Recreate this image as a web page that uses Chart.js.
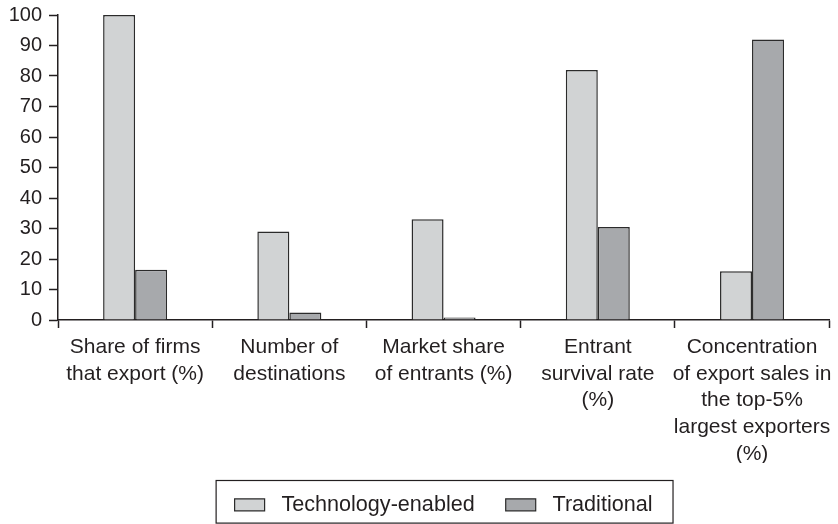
<!DOCTYPE html>
<html>
<head>
<meta charset="utf-8">
<script src="https://cdn.jsdelivr.net/npm/chart.js@4/dist/chart.umd.min.js"></script>
<style>
  html, body { margin: 0; padding: 0; background: #fff; }
  #wrap { width: 838px; height: 524px; }
</style>
</head>
<body>
<div id="wrap"><canvas id="barChart" width="838" height="524"></canvas></div>
<script>
// Chart data
const categories = [
  ['Share of firms', 'that export (%)'],
  ['Number of', 'destinations'],
  ['Market share', 'of entrants (%)'],
  ['Entrant', 'survival rate', '(%)'],
  ['Concentration', 'of export sales in', 'the top-5%', 'largest exporters', '(%)']
];
const seriesNames = ['Technology-enabled', 'Traditional'];
const techEnabled = [100, 29, 33, 82, 16];
const traditional = [16.5, 2.5, 0.8, 30.5, 92];
const yTicks = [0, 10, 20, 30, 40, 50, 60, 70, 80, 90, 100];

const ink = '#231f20';
const fontFamily = '"Liberation Sans", Arial, Helvetica, sans-serif';

// Legend sizing and a frame round it
const legendFrame = {
  id: 'legendFrame',
  beforeInit(chart) {
    const fit = chart.legend.fit;
    chart.legend.fit = function () {
      fit.bind(chart.legend)();
      this.height = 61;
    };
  },
  afterDraw(chart) {
    const boxes = chart.legend.legendHitBoxes;
    if (!boxes || !boxes.length) return;
    const first = boxes[0], last = boxes[boxes.length - 1];
    const left = first.left - 19;
    const right = last.left + last.width + 20;
    const top = first.top - 14;
    const bottom = first.top + first.height + 7;
    const ctx = chart.ctx;
    ctx.save();
    ctx.strokeStyle = ink;
    ctx.lineWidth = 1.2;
    ctx.strokeRect(left + 0.5, top + 0.5, right - left, bottom - top);
    ctx.restore();
  }
};

new Chart(document.getElementById('barChart'), {
  type: 'bar',
  data: {
    labels: categories,
    datasets: [
      {
        label: seriesNames[0],
        data: techEnabled,
        backgroundColor: '#d1d3d4',
        borderColor: '#2b2b2b',
        borderWidth: 1.5,
        borderSkipped: 'bottom'
      },
      {
        label: seriesNames[1],
        data: traditional,
        backgroundColor: '#a7a9ac',
        borderColor: '#2b2b2b',
        borderWidth: 1.5,
        borderSkipped: 'bottom'
      }
    ]
  },
  options: {
    responsive: false,
    animation: false,
    layout: { padding: { top: 15, right: 6, left: 0, bottom: 0 } },
    datasets: { bar: { categoryPercentage: 0.415, barPercentage: 1 } },
    scales: {
      x: {
        offset: true,
        afterFit(scale) { scale.height = 143; },
        grid: {
          offset: true,
          drawOnChartArea: false,
          tickLength: 8,
          tickColor: ink,
          tickWidth: 1.5
        },
        border: { color: ink, width: 1.5 },
        ticks: {
          color: ink,
          maxRotation: 0,
          autoSkip: false,
          padding: 6,
          font: { family: fontFamily, size: 21, lineHeight: 1.27 }
        }
      },
      y: {
        min: 0,
        max: 100,
        afterFit(scale) {
          scale.width = 58;
          scale.paddingTop = 0;
          scale.paddingBottom = 0;
        },
        afterBuildTicks(scale) { scale.ticks = yTicks.map(v => ({ value: v })); },
        grid: {
          drawOnChartArea: false,
          tickLength: 9,
          tickColor: ink,
          tickWidth: 1.5
        },
        border: { color: ink, width: 1.5 },
        ticks: {
          color: ink,
          padding: 7,
          font: { family: fontFamily, size: 20 }
        }
      }
    },
    plugins: {
      tooltip: { enabled: false },
      legend: {
        position: 'bottom',
        fullSize: false,
        labels: {
          color: ink,
          boxWidth: 30,
          boxHeight: 12,
          padding: 31,
          font: { family: fontFamily, size: 21.6 },
          generateLabels(chart) {
            const items = Chart.defaults.plugins.legend.labels.generateLabels(chart);
            items.forEach(it => { it.text = ' ' + it.text; it.lineWidth = 1.2; });
            return items;
          }
        }
      }
    }
  },
  plugins: [legendFrame]
});
</script>
</body>
</html>
